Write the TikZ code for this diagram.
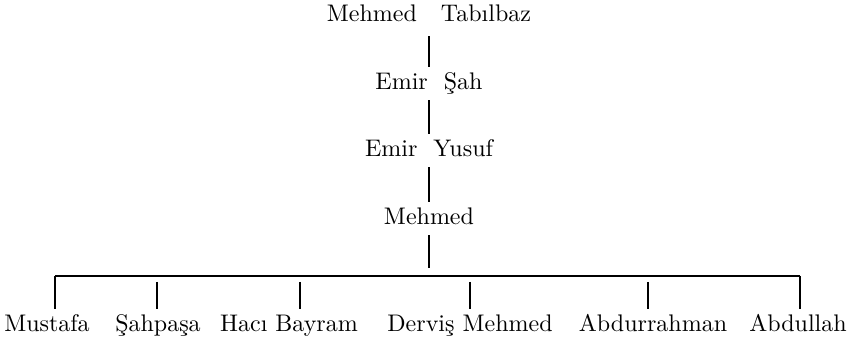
\documentclass[tikz,border=0pt]{standalone}
\begin{document}
\begin{tikzpicture}[x=0.4pt,y=0.4pt,
    person/.style={anchor=base, inner sep=2pt, text height=7pt, text depth=2pt,
      font=\fontsize{9.6}{11}\selectfont},
    link/.style={line width=0.6pt}]
  \useasboundingbox (0,0) rectangle (849,340);
  % line of descent
  \node[person] (tabilbaz) at (429,318) {Mehmed\quad Tabılbaz};
  \node[person] (emirsah) at (429,250) {Emir~~Şah};
  \node[person] (yusuf) at (429,183) {Emir~~Yusuf};
  \node[person] (mehmed) at (429,115) {Mehmed};
  % sons
  \node[person] (mustafa) at (47,8) {Mustafa};
  \node[person] (sahpasa) at (158,8) {Şahpaşa};
  \node[person] (haci) at (289,8) {Hacı Bayram};
  \node[person] (dervis) at (470,8) {Derviş Mehmed};
  \node[person] (abdurrahman) at (653,8) {Abdurrahman};
  \node[person] (abdullah) at (798,8) {Abdullah};
  \coordinate (stem) at (429,72);
  \coordinate (barL) at (55,64);
  \coordinate (barR) at (800,64);
  \coordinate (d2) at (157,58);
  \coordinate (d3) at (300,58);
  \coordinate (d4) at (470,58);
  \coordinate (d5) at (648,58);

  \draw[link, shorten <=1.5pt] (tabilbaz.south) -- (emirsah.north);
  \draw[link] (emirsah.south) -- (yusuf.north);
  \draw[link] (yusuf.south) -- (mehmed.north);
  \draw[link] (mehmed.south) -- (stem);
  \draw[link] (barL) -- (barR);

  \draw[link] (barL) -- (barL |- mustafa.north);
  \draw[link] (d2) -- (d2 |- sahpasa.north);
  \draw[link] (d3) -- (d3 |- haci.north);
  \draw[link] (d4) -- (d4 |- dervis.north);
  \draw[link] (d5) -- (d5 |- abdurrahman.north);
  \draw[link] (barR) -- (barR |- abdullah.north);
\end{tikzpicture}
\end{document}
